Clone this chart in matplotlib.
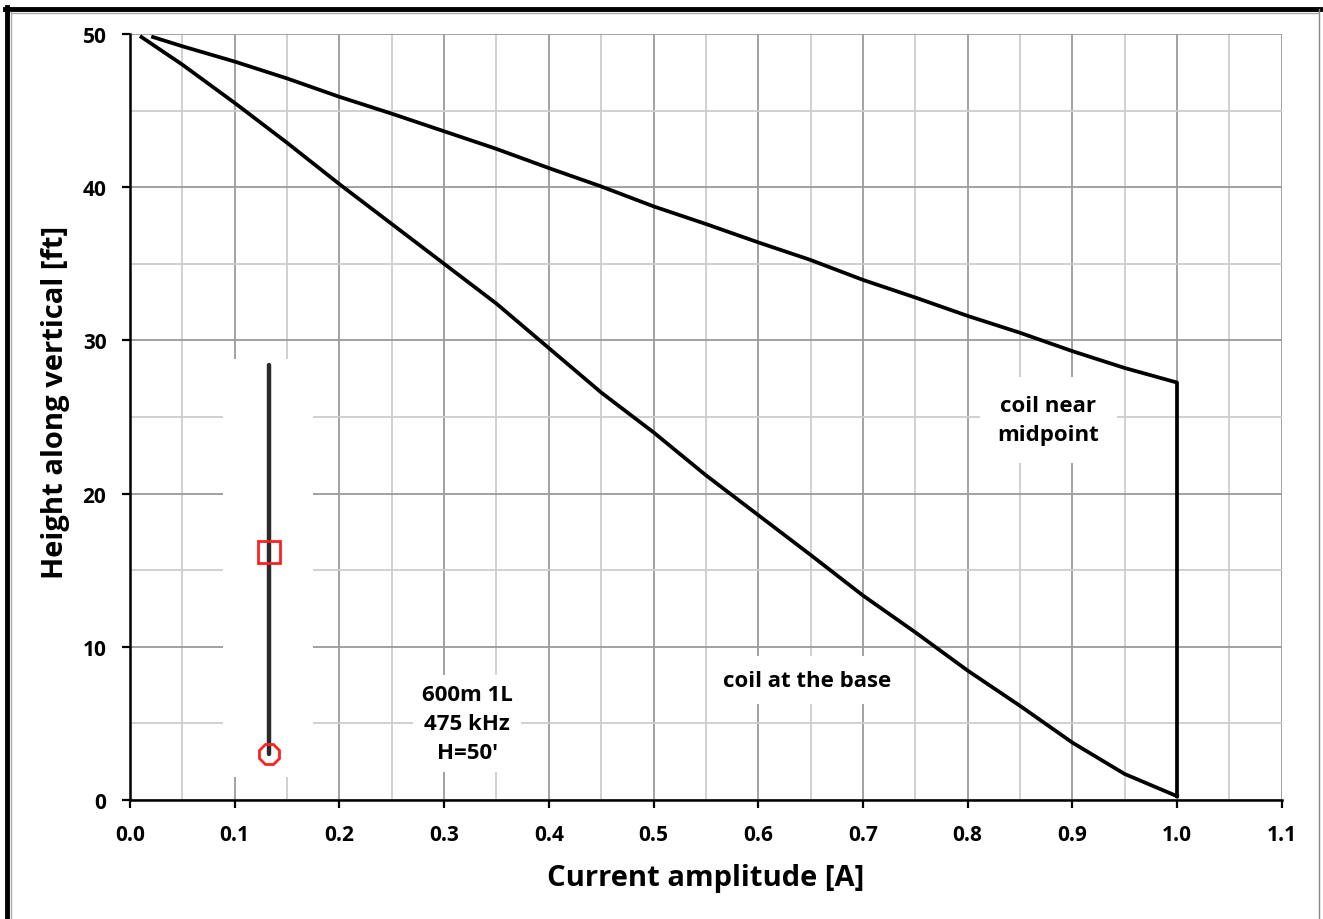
import matplotlib
matplotlib.use('Agg')
import matplotlib.pyplot as plt
from matplotlib.lines import Line2D
import numpy as np

plt.rcParams['font.family'] = ['Open Sans', 'DejaVu Sans']
plt.rcParams['font.weight'] = 'bold'

# coil at the base
base_x = [0.011, 0.05, 0.1, 0.15, 0.2, 0.25, 0.3, 0.35, 0.4, 0.45, 0.5,
          0.55, 0.6, 0.65, 0.7, 0.75, 0.8, 0.85, 0.9, 0.95, 1.0]
base_y = [49.8, 48.0, 45.5, 42.9, 40.2, 37.6, 35.0, 32.4, 29.5, 26.6, 24.0,
          21.2, 18.6, 16.0, 13.35, 10.95, 8.45, 6.15, 3.75, 1.7, 0.25]

# coil near midpoint
mid_x = [0.022, 0.05, 0.1, 0.15, 0.2, 0.25, 0.3, 0.35, 0.4, 0.45, 0.5,
         0.55, 0.6, 0.65, 0.7, 0.75, 0.8, 0.85, 0.9, 0.95, 1.0, 1.0]
mid_y = [49.8, 49.2, 48.2, 47.1, 45.9, 44.8, 43.65, 42.5, 41.25, 40.05, 38.75,
         37.6, 36.4, 35.25, 33.95, 32.8, 31.6, 30.5, 29.3, 28.2, 27.25, 0.25]

# little antenna sketch: mast height, coil and feed point
mast_h = 50
coil_h = 26
feed_h = 0

W, H = 1323, 920
fig = plt.figure(figsize=(W / 100, H / 100), dpi=100)
ax = fig.add_axes([130 / W, 1 - 801 / H, 1151.7 / W, 766 / H])

ax.plot(base_x, base_y, color='black', lw=2.7, zorder=3)
ax.plot(mid_x, mid_y, color='black', lw=2.7, zorder=3)

ax.set_xlim(0, 1.1)
ax.set_ylim(0, 50)
ax.set_xticks(np.arange(0, 1.11, 0.1))
ax.set_xticks(np.arange(0.05, 1.1, 0.1), minor=True)
ax.set_yticks(np.arange(0, 51, 10))
ax.set_yticks(np.arange(5, 50, 10), minor=True)
ax.set_xticklabels(['%.1f' % v for v in np.arange(0, 1.11, 0.1)])
ax.grid(which='major', color='#9a9a9a', lw=1.3, zorder=0)
ax.grid(which='minor', color='#cdcdcd', lw=1.3, zorder=0)
ax.set_axisbelow(True)

ax.tick_params(which='major', direction='out', length=6, width=1.6,
               labelsize=15, pad=11)
ax.tick_params(which='minor', length=0)
for s in ['top', 'right']:
    ax.spines[s].set_visible(False)
for s in ['left', 'bottom']:
    ax.spines[s].set_linewidth(1.8)

ax.set_xlabel('Current amplitude [A]', fontsize=21, fontweight='bold')
ax.set_ylabel('Height along vertical [ft]', fontsize=21, fontweight='bold')
ax.xaxis.set_label_coords(0.5, -0.082)
ax.yaxis.set_label_coords(-0.052, 0.52)

ax.text(0.877, 24.8, 'coil near\nmidpoint', ha='center', va='center',
        fontsize=16, fontweight='bold', linespacing=1.5,
        bbox=dict(boxstyle='square,pad=0.8', facecolor='white', edgecolor='none'), zorder=2)
ax.text(0.6466, 7.83, 'coil at the base', ha='center', va='center',
        fontsize=16, fontweight='bold',
        bbox=dict(boxstyle='square,pad=0.6', facecolor='white', edgecolor='none'), zorder=2)
ax.text(0.322, 5.0, "600m 1L\n475 kHz\nH=50'", ha='center', va='center',
        fontsize=16, fontweight='bold', linespacing=1.5,
        bbox=dict(boxstyle='square,pad=0.4', facecolor='white', edgecolor='none'), zorder=2)

# inset picture of the antenna
ins = fig.add_axes([223 / W, 1 - 778 / H, 90 / W, 418 / H])
ins.set_facecolor('white')
ins.set_xlim(-1, 1)
ins.set_ylim(-2.96, 50.77)
ins.plot([0.02, 0.02], [feed_h, mast_h], color='#2a2a2a', lw=3.2,
         solid_capstyle='round')
ins.plot([0.02], [coil_h], marker='s', ms=16, mfc='none', mec='#ff2020', mew=2)
ins.plot([0.02], [feed_h], marker='8', ms=15, mfc='none', mec='#ff2020', mew=2)
ins.set_xticks([])
ins.set_yticks([])
for s in ins.spines.values():
    s.set_visible(False)

# outer frame
fig.add_artist(Line2D([7 / W, 7 / W], [0, 1 - 8 / H], color='black', lw=3.5))
fig.add_artist(Line2D([5 / W, 1320 / W], [1 - 10 / H, 1 - 10 / H], color='black', lw=3.5))
fig.add_artist(Line2D([11 / W, 11 / W], [0, 1 - 13 / H], color='#aaaaaa', lw=1))
fig.add_artist(Line2D([11 / W, 1318 / W], [1 - 14 / H, 1 - 14 / H], color='#aaaaaa', lw=1))
fig.add_artist(Line2D([1319 / W, 1319 / W], [0, 1 - 10 / H], color='#888888', lw=1))

fig.savefig('out.png', dpi=100)
